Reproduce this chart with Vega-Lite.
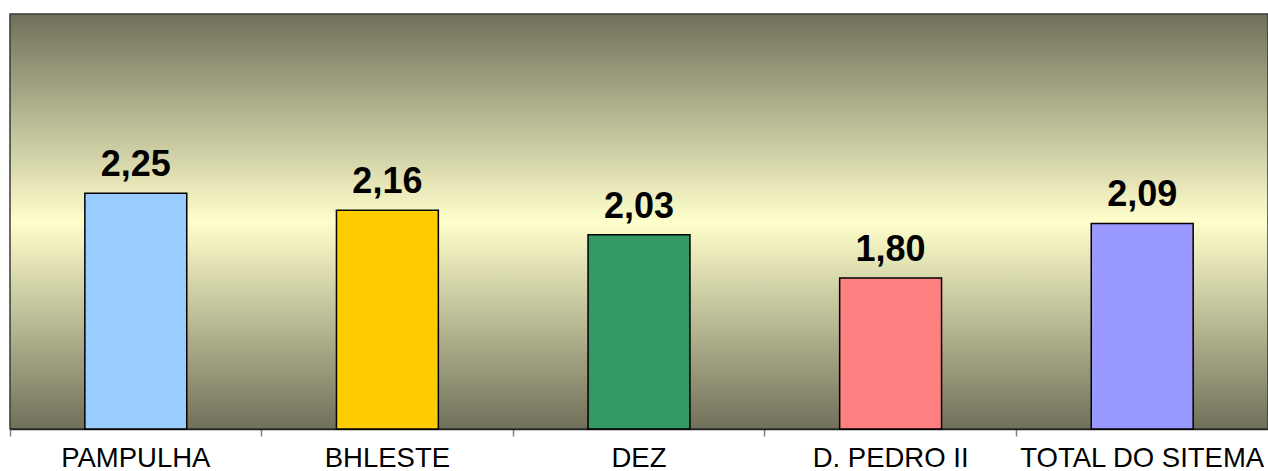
{
  "$schema": "https://vega.github.io/schema/vega-lite/v6.json",
  "width": 1258,
  "height": 415,
  "autosize": {"type": "none"},
  "padding": {"left": 10, "top": 14, "right": 0, "bottom": 42},
  "background": "white",
  "config": {
    "view": {
      "stroke": "#3a3a3a",
      "strokeWidth": 1.5,
      "fill": {
        "gradient": "linear",
        "x1": 0, "y1": 0, "x2": 0, "y2": 1,
        "stops": [
          {"offset": 0, "color": "#70705a"},
          {"offset": 0.5, "color": "#ffffcc"},
          {"offset": 1, "color": "#70705a"}
        ]
      }
    },
    "font": "Liberation Sans"
  },
  "data": {
    "values": [
      {"local": "PAMPULHA", "valor": 2.25, "rotulo": "2,25", "cor": "#99ccff"},
      {"local": "BHLESTE", "valor": 2.16, "rotulo": "2,16", "cor": "#ffcc00"},
      {"local": "DEZ", "valor": 2.03, "rotulo": "2,03", "cor": "#339966"},
      {"local": "D. PEDRO II", "valor": 1.80, "rotulo": "1,80", "cor": "#ff8080"},
      {"local": "TOTAL DO SITEMA", "valor": 2.09, "rotulo": "2,09", "cor": "#9999ff"}
    ]
  },
  "encoding": {
    "x": {
      "field": "local",
      "type": "nominal",
      "sort": null,
      "scale": {"paddingInner": 0, "paddingOuter": 0},
      "axis": {
        "title": null,
        "labelAngle": 0,
        "labelFontSize": 27.5,
        "labelColor": "#000000",
        "labelPadding": 8,
        "labelLimit": 400,
        "labelOverlap": false,
        "labelBound": false,
        "bandPosition": 0,
        "tickSize": 7,
        "tickColor": "#808080",
        "tickWidth": 1.5,
        "domainColor": "#222222",
        "domainWidth": 1.5,
        "grid": false
      }
    },
    "y": {
      "field": "valor",
      "type": "quantitative",
      "scale": {"domain": [1, 3.2], "nice": false, "zero": false},
      "axis": null
    }
  },
  "layer": [
    {
      "mark": {"type": "bar", "width": {"band": 0.405}, "stroke": "#000000", "strokeWidth": 1.5},
      "encoding": {
        "y2": {"datum": 1},
        "color": {"field": "cor", "type": "nominal", "scale": null, "legend": null}
      }
    },
    {
      "mark": {"type": "text", "baseline": "alphabetic", "dy": -17, "fontSize": 36, "fontWeight": "bold", "color": "#000000"},
      "encoding": {
        "text": {"field": "rotulo", "type": "nominal"}
      }
    }
  ]
}
